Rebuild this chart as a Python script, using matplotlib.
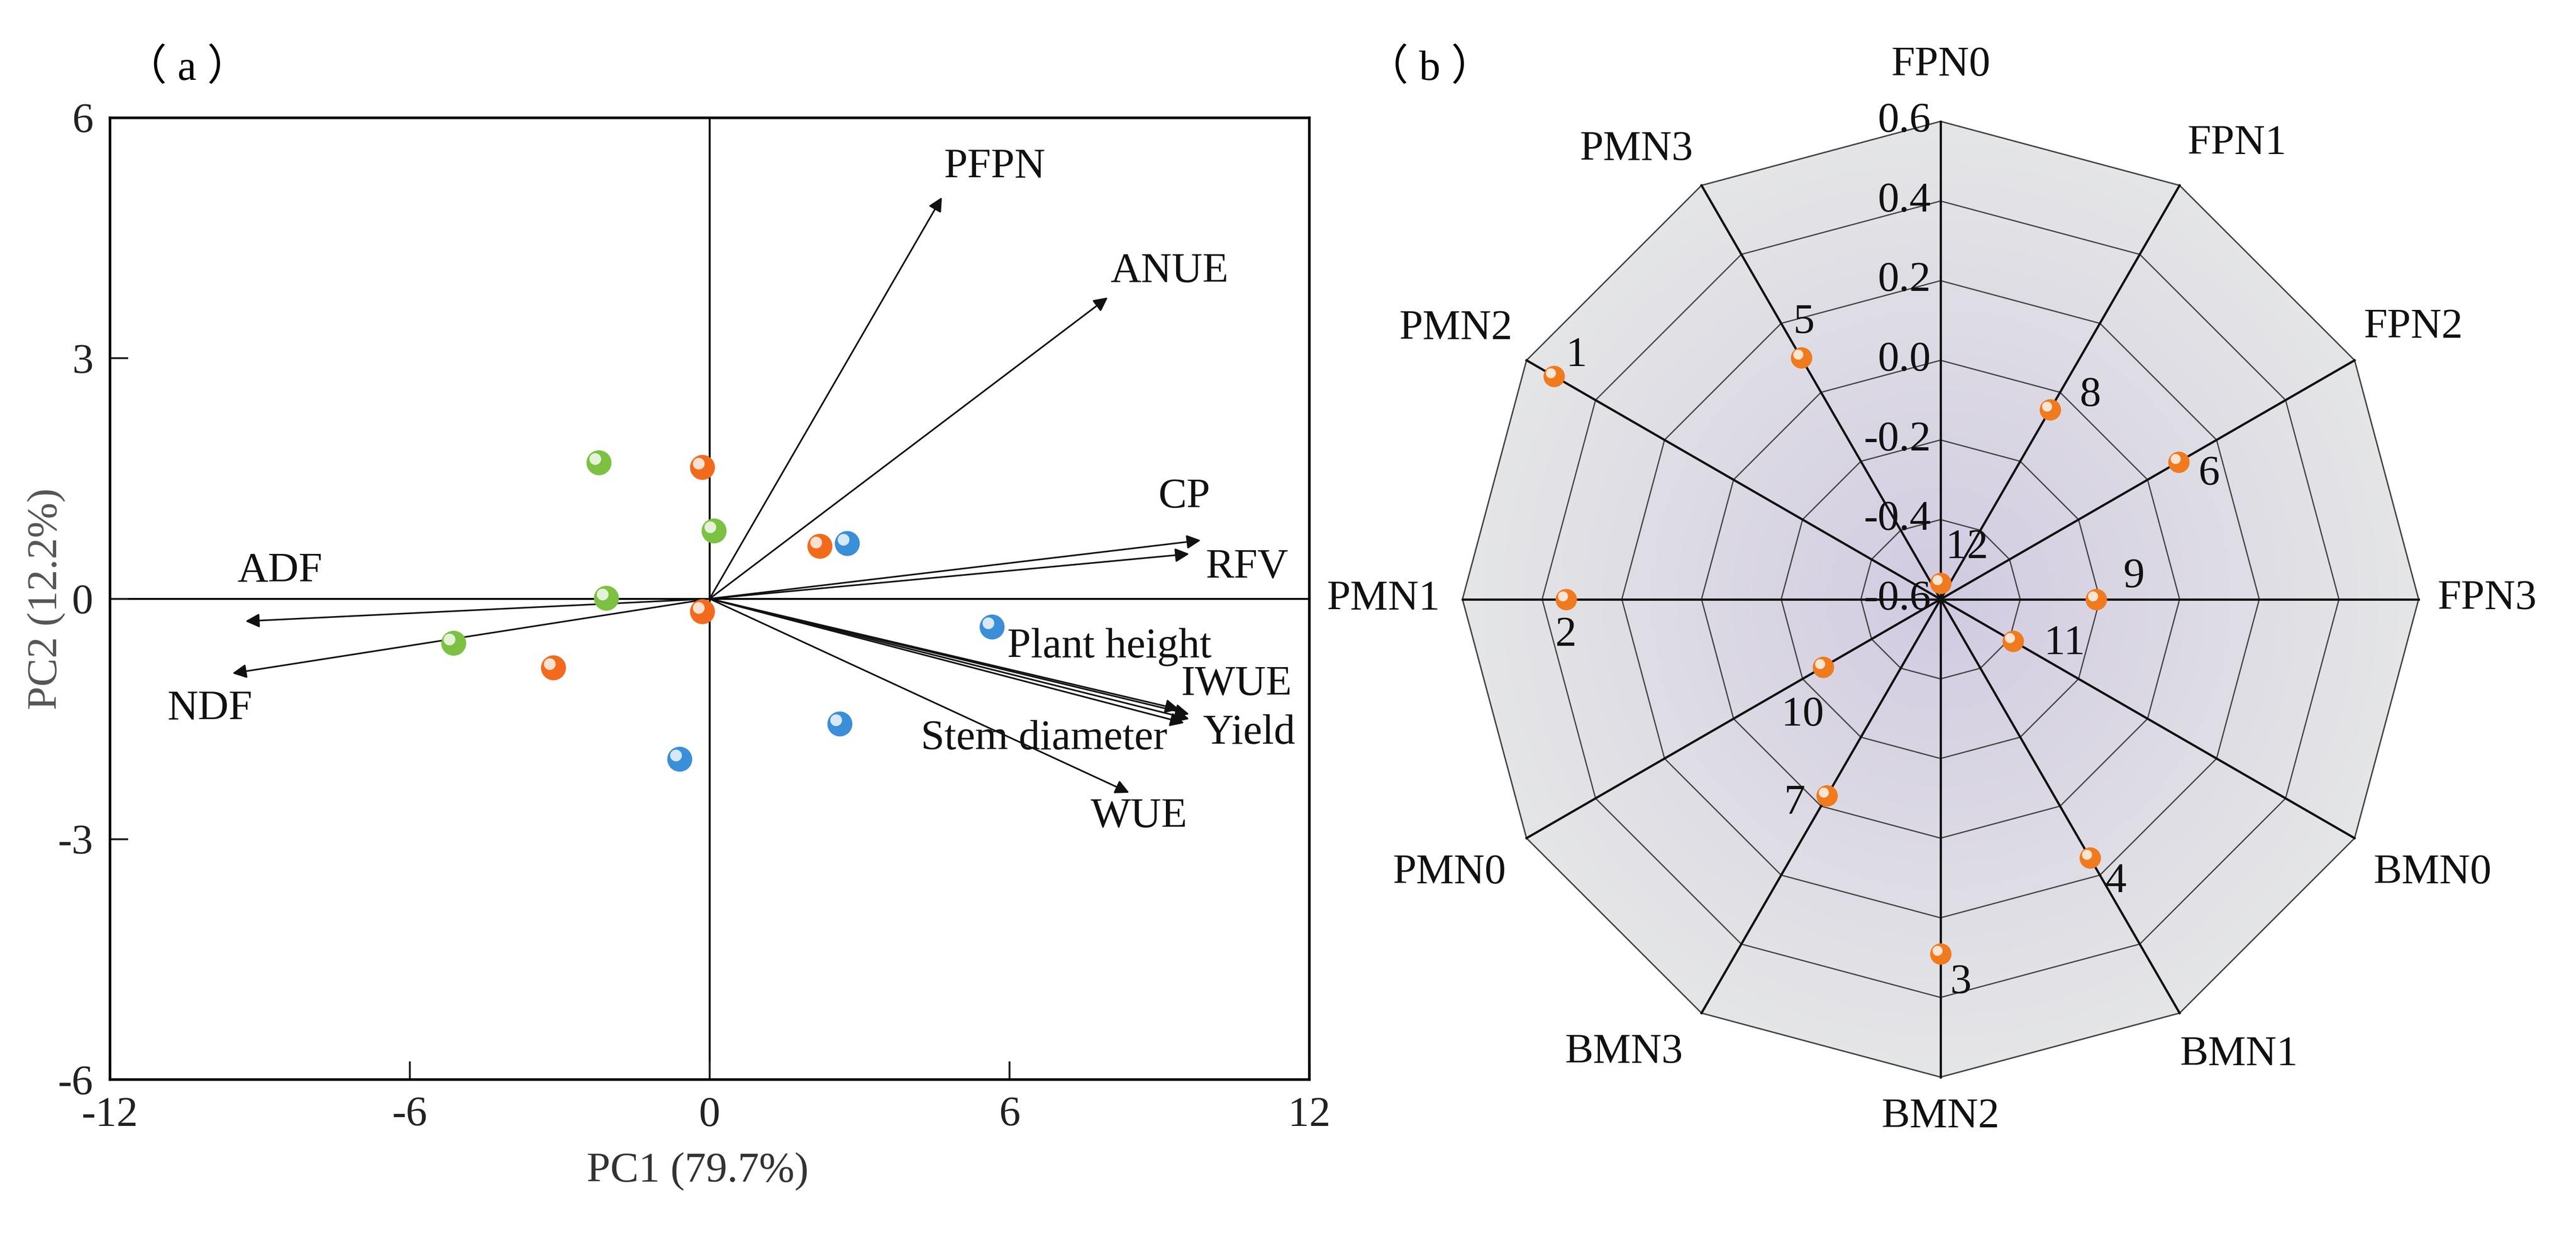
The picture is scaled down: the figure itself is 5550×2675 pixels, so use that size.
import numpy as np
import matplotlib
matplotlib.use('Agg')
import matplotlib.pyplot as plt
from matplotlib.patches import Polygon
from matplotlib.transforms import offset_copy

plt.rcParams['font.family'] = ['Liberation Serif', 'Noto Sans CJK SC', 'DejaVu Sans']
plt.rcParams['axes.unicode_minus'] = False
plt.rcParams['font.size'] = 66

# (a) PCA scores
green_x = [-2.22, 0.09, -2.07, -5.13]
green_y = [1.70, 0.85, 0.01, -0.55]
orange_x = [-0.15, 2.20, -0.15, -3.13]
orange_y = [1.64, 0.66, -0.16, -0.86]
blue_x = [2.75, 5.65, 2.60, -0.60]
blue_y = [0.69, -0.35, -1.56, -2.00]

# (a) loadings (arrow tips)
var_names = ['PFPN', 'ANUE', 'CP', 'RFV', 'ADF', 'NDF',
             'Plant height', 'IWUE', 'Yield', 'Stem diameter', 'WUE']
load_x = [4.65, 7.97, 9.83, 9.60, -9.29, -9.55, 9.40, 9.60, 9.60, 9.50, 8.40]
load_y = [5.01, 3.76, 0.73, 0.56, -0.28, -0.93, -1.38, -1.44, -1.50, -1.55, -2.42]
# where the names sit
lab_x = [5.70, 9.20, 9.50, 10.75, -8.60, -10.00, 8.00, 10.55, 10.80, 6.70, 8.60]
lab_y = [5.38, 4.08, 1.27, 0.39, 0.34, -1.38, -0.60, -1.07, -1.68, -1.75, -2.72]

# (b) radar
spokes = ['FPN0', 'FPN1', 'FPN2', 'FPN3', 'BMN0', 'BMN1',
          'BMN2', 'BMN3', 'PMN0', 'PMN1', 'PMN2', 'PMN3']
radar_vals = [-0.56, -0.05, 0.09, -0.21, -0.39, 0.15,
              0.29, -0.03, -0.26, 0.34, 0.52, 0.10]
radar_ids = ['12', '8', '6', '9', '11', '4', '3', '7', '10', '2', '1', '5']
radar_ticks = [-0.6, -0.4, -0.2, 0.0, 0.2, 0.4, 0.6]
# offsets (points) of the point numbers
id_dx = [41, 62, 47, 59, 80, 40, 31, -50, -32, 0, 35, 4]
id_dy = [55, 22, -20, 34, -4, -37, -46, -12, -75, -56, 32, 55]
# offsets (points) of the spoke names from the outer vertex
sp_dx = [0, 12, 14, 29, 29, 0, 0, -29, -32, -35, -22, -13]
sp_dy = [57, 35, 21, 0, -24, -35, -32, -32, -24, 0, 19, 25]

fig = plt.figure(figsize=(55.5, 26.75), dpi=100)


def ball(ax, x, y, color, s):
    ax.scatter(x, y, s=s, color=color, zorder=5, linewidths=0)
    hl = offset_copy(ax.transData, fig=fig, x=-np.sqrt(s) * 0.15, y=np.sqrt(s) * 0.15, units='points')
    ax.scatter(x, y, s=s * 0.22, color='white', alpha=0.8, zorder=6, linewidths=0, transform=hl)


# ---------------- (a) ----------------
ax = fig.add_axes([0.0427, 0.130, 0.4655, 0.775])
ax.set_xlim(-12, 12)
ax.set_ylim(-6, 6)
ax.set_xticks([-12, -6, 0, 6, 12])
ax.set_yticks([-6, -3, 0, 3, 6])
ax.tick_params(direction='in', length=28, width=3, pad=26, colors='#222222')
for sp in ax.spines.values():
    sp.set_linewidth(4)
ax.axhline(0, color='black', lw=3, zorder=1)
ax.axvline(0, color='black', lw=3, zorder=1)

for i in range(len(var_names)):
    ax.annotate('', xy=(load_x[i], load_y[i]), xytext=(0, 0),
                arrowprops=dict(arrowstyle='-|>', lw=2.5, color='#111111',
                                mutation_scale=45, shrinkA=0, shrinkB=0), zorder=3)
    ax.text(lab_x[i], lab_y[i], var_names[i], ha='center', va='center', color='#111111', zorder=4)

ball(ax, green_x, green_y, '#7cc142', 1500)
ball(ax, orange_x, orange_y, '#f26b1d', 1500)
ball(ax, blue_x, blue_y, '#3b8ed8', 1500)

ax.set_xlabel('PC1 (79.7%)', color='#333333')
ax.xaxis.set_label_coords(0.49, -0.075)
ax.set_ylabel('PC2 (12.2%)', color='#555555')
ax.yaxis.set_label_coords(-0.037, 0.5)
fig.text(0.0726, 0.945, '（ a ）', ha='center', va='center', fontsize=66)

# ---------------- (b) ----------------
ax2 = fig.add_axes([2850 / 5550, 0, 2700 / 5550, 1])
ax2.set_xlim(-1.292, 1.329)
ax2.set_ylim(-1.343, 1.254)
ax2.axis('off')

n = len(spokes)
theta = np.arange(n) * 2 * np.pi / n
tmin, tmax = radar_ticks[0], radar_ticks[-1]


def rad(v):
    return (np.asarray(v) - tmin) / (tmax - tmin)


outer = np.column_stack([np.sin(theta), np.cos(theta)])
poly = Polygon(outer, closed=True, facecolor='none', edgecolor='#555555', lw=2)
ax2.add_patch(poly)

# radial shading from lavender to grey
g = np.linspace(-1, 1, 600)
gx, gy = np.meshgrid(g, g)
d = np.clip(np.hypot(gx, gy), 0, 1)[..., None]
c0 = np.array([208, 201, 225]) / 255
c1 = np.array([229, 230, 231]) / 255
img = c0 + (c1 - c0) * d ** 0.8
im = ax2.imshow(img, extent=[-1, 1, -1, 1], origin='lower', zorder=0)
im.set_clip_path(poly)

for t in radar_ticks[1:]:
    r = rad(t)
    ring = np.vstack([outer * r, outer[:1] * r])
    ax2.plot(ring[:, 0], ring[:, 1], color='#444444', lw=2, zorder=1)

for k in range(n):
    sx, cy = np.sin(theta[k]), np.cos(theta[k])
    ax2.plot([0, sx], [0, cy], color='#111111', lw=3.5, zorder=2)
    ha = 'left' if sx > 0.3 else ('right' if sx < -0.3 else 'center')
    va = 'bottom' if cy > 0.3 else ('top' if cy < -0.3 else 'center')
    ax2.annotate(spokes[k], (sx, cy), xytext=(sp_dx[k], sp_dy[k]), textcoords='offset points',
                 ha=ha, va=va, color='#111111')

for t in radar_ticks:
    ax2.text(-0.02, rad(t), f'{t:.1f}', ha='right', va='center', color='#111111', zorder=3)

rv = rad(radar_vals)
px = rv * np.sin(theta)
py = rv * np.cos(theta)
ball(ax2, px, py, '#f07a1e', 1100)
for k in range(n):
    ax2.annotate(radar_ids[k], (px[k], py[k]), xytext=(id_dx[k], id_dy[k]),
                 textcoords='offset points', ha='center', va='center', color='#111111', zorder=7)

fig.text(0.555, 0.945, '（ b ）', ha='center', va='center', fontsize=66)

fig.savefig('out.png', dpi=100)
